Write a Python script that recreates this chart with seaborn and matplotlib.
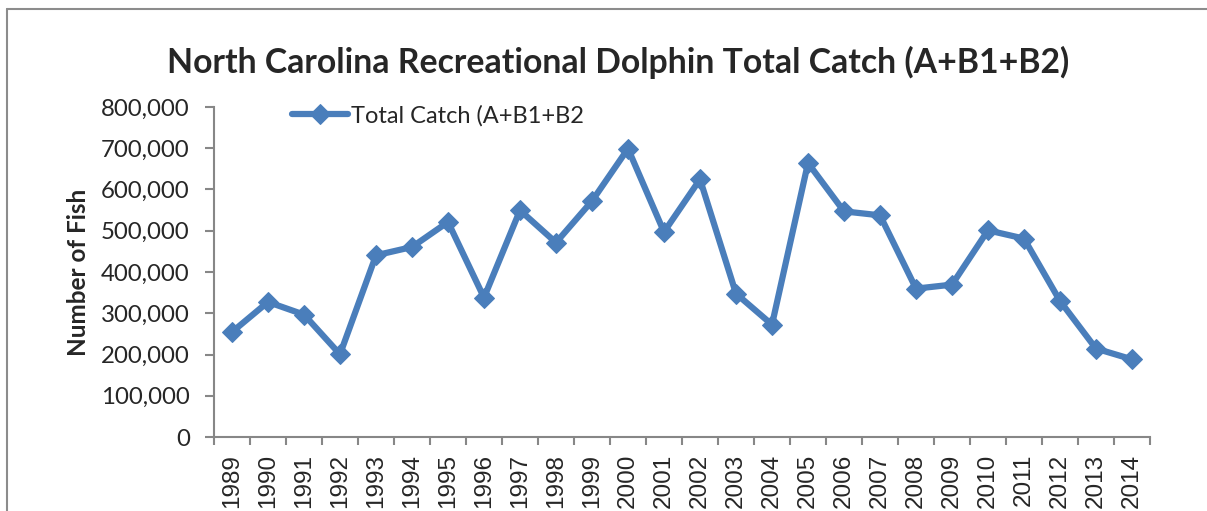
import matplotlib
matplotlib.use("Agg")
import matplotlib.pyplot as plt
from matplotlib.lines import Line2D
from matplotlib.ticker import FuncFormatter, FixedLocator
import seaborn as sns
import pandas as pd
import numpy as np

# valores
years = ['1989', '1990', '1991', '1992', '1993', '1994', '1995', '1996', '1997',
         '1998', '1999', '2000', '2001', '2002', '2003', '2004', '2005', '2006',
         '2007', '2008', '2009', '2010', '2011', '2012', '2013', '2014']
total_catch = [254500, 327300, 296700, 200500, 440500, 460600, 521200, 337900,
               549600, 471300, 572100, 699000, 497000, 624700, 347600, 272400,
               664200, 547000, 537400, 359700, 369400, 501000, 481000, 329700,
               214300, 188300]
series_label = 'Total Catch (A+B1+B2'
title = 'North Carolina Recreational Dolphin Total Catch (A+B1+B2)'
ylabel = 'Number of Fish'

sns.set_style('white')
plt.rcParams['font.family'] = ['Lato', 'DejaVu Sans']

W, H = 1207, 511
fig = plt.figure(figsize=(W / 100, H / 100), dpi=100)
ax = fig.add_axes([214 / W, 1 - 437 / H, (1150 - 214) / W, (437 - 107) / H])

df = pd.DataFrame({'pos': np.arange(len(years)), 'catch': total_catch})
blue = '#4A7EBB'
sns.lineplot(data=df, x='pos', y='catch', ax=ax, color=blue, linewidth=4.5,
             marker='D', markersize=10.5, markeredgecolor=blue, label=series_label)

ax.set_xlim(-0.5, len(years) - 0.5)
ax.set_ylim(0, 800000)
ax.set_xlabel('')
ax.set_ylabel('')

grey = '#878787'
for s in ['top', 'right']:
    ax.spines[s].set_visible(False)
for s in ['left', 'bottom']:
    ax.spines[s].set_color(grey)
    ax.spines[s].set_linewidth(1.5)

ax.set_yticks(np.arange(0, 800001, 100000))
ax.yaxis.set_major_formatter(FuncFormatter(lambda v, p: f'{int(v):,}'))
ax.tick_params(axis='y', direction='out', length=6.5, width=1.5, color=grey,
               labelsize=17.3, pad=11, left=True)

# ticks entre as categorias, rótulos no centro
ax.xaxis.set_major_locator(FixedLocator(np.arange(-0.5, len(years), 1.0)))
ax.xaxis.set_minor_locator(FixedLocator(np.arange(len(years))))
ax.set_xticklabels([])
ax.set_xticklabels(years, minor=True, rotation=90, family='Liberation Sans',
                   fontsize=17.5)
ax.tick_params(axis='x', which='major', direction='out', length=6, width=1.5,
               color=grey, bottom=True)
ax.tick_params(axis='x', which='minor', length=0, pad=12, bottom=True)
for t in ax.get_xticklabels(minor=True):
    t.set_va('top')

leg = ax.legend(loc='upper left', bbox_to_anchor=(0.073, 1.035), frameon=False,
                fontsize=17, handlelength=2.4, handletextpad=0.1,
                borderaxespad=0)

fig.text(618 / W, 1 - 73 / H, title, ha='center', va='baseline',
         fontsize=24.3, fontweight='bold')
fig.text(79 / W, 1 - 272 / H, ylabel, ha='center', va='center', rotation=90,
         fontsize=17.5, fontweight='bold')

# moldura da área do gráfico
fig.add_artist(Line2D([7 / W, 7 / W], [0, 1 - 9 / H], transform=fig.transFigure,
                      color='#8c8c8c', linewidth=1.5))
fig.add_artist(Line2D([7 / W, 1], [1 - 9 / H, 1 - 9 / H], transform=fig.transFigure,
                      color='#8c8c8c', linewidth=1.5))

fig.savefig('out.png', dpi=100)
